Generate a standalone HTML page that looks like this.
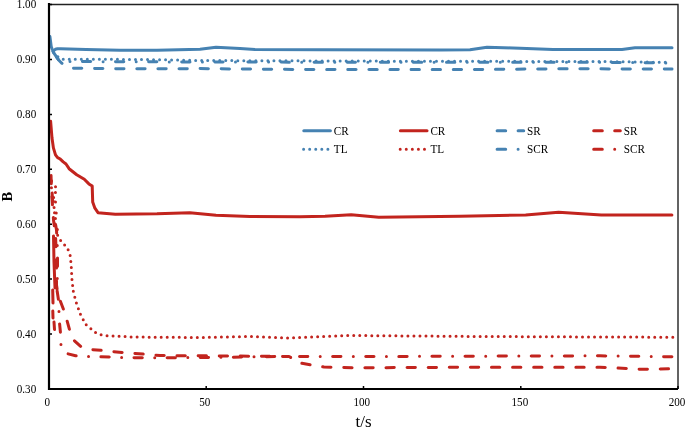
<!DOCTYPE html>
<html><head><meta charset="utf-8"><style>
html,body{margin:0;padding:0;background:#fff;width:685px;height:428px;overflow:hidden}
svg{display:block;filter:blur(0.45px)}
text{font-family:"Liberation Serif","Times New Roman",serif;fill:#000}
</style></head><body>
<svg width="685" height="428" viewBox="0 0 685 428">
<rect width="685" height="428" fill="#fff"/>
<g fill="none" stroke-width="3" stroke-linecap="round" stroke-linejoin="round">
<polyline points="52.8,51.4 58.6,60.0 61.8,63.2 66.0,66.5 72.8,68.2 120.0,68.8 200.0,68.6 260.0,69.2 320.0,69.6 480.0,69.5 560.0,68.8 672.0,69.0" stroke="#4682b2" stroke-dasharray="8.3 12.8" stroke-dashoffset="14.25"/>
<polyline points="52.8,51.4 58.6,60.0 62.0,61.5 140.0,61.8 200.0,62.0 400.0,62.3 600.0,62.3 672.0,63.0" stroke="#4682b2" stroke-dasharray="8.3 12.4 0 12.4" stroke-dashoffset="31.71"/>
<polyline points="52.8,51.4 56.0,55.3 60.0,58.5 63.0,59.3 140.0,59.4 200.0,60.5 400.0,61.2 600.0,61.5 667.0,62.3" stroke="#4682b2" stroke-dasharray="0 6.02" stroke-dashoffset="4.55"/>
<polyline points="52.8,51.4 55.3,49.3 57.5,48.8 60.7,48.7 86.0,49.5 120.0,50.3 157.0,50.3 200.0,49.2 216.0,47.3 240.0,48.6 255.0,49.5 320.0,49.8 440.0,50.0 470.0,49.8 487.0,47.2 520.0,48.3 553.0,49.6 622.0,49.4 635.0,47.8 672.0,47.8" stroke="#4682b2"/>
<polyline points="49.9,36.5 51.2,46.5 52.3,49.5" stroke="#4682b2"/>
<polyline points="51.0,175.0 51.5,190.0 52.5,205.0 53.5,220.0 55.5,235.0 56.5,260.0 56.5,285.0 58.0,295.0 63.5,309.4 66.0,317.0 69.6,330.0 73.4,339.8 81.0,346.7 91.4,349.6 100.9,350.3 122.0,352.5 143.0,354.0 160.0,355.5 289.0,356.5 301.0,363.2 312.0,365.0 324.0,367.0 353.0,367.8 480.0,367.2 600.0,367.2 642.0,369.3 672.0,368.8" stroke="#c2241e" stroke-dasharray="8.3 12.8" stroke-dashoffset="20.68"/>
<polyline points="51.2,176.0 52.5,200.0 56.0,206.0 54.0,215.0 56.5,230.0 57.5,250.0 57.5,270.0 57.0,290.0 58.5,300.0 58.9,310.0 59.4,322.0 60.4,332.0 60.6,343.6 63.0,350.0 66.6,353.5 75.6,355.8 87.0,356.5 99.4,356.8 130.0,357.6 160.0,357.8 230.0,357.2 280.0,356.5 400.0,356.4 600.0,355.8 673.0,356.8" stroke="#c2241e" stroke-dasharray="8.3 12.4 0 12.4" stroke-dashoffset="15.97"/>
<polyline points="52.7,290.0 53.0,303.0" stroke="#c2241e"/>
<polyline points="52.8,311.0 53.0,318.0" stroke="#c2241e"/>
<polyline points="54.0,322.0 54.5,329.5" stroke="#c2241e"/>
<polyline points="53.5,236.0 54.0,262.0 55.0,288.0" stroke="#c2241e"/>
<polyline points="51.0,176.0 51.5,189.0 55.5,186.5 56.2,191.0 53.0,197.0 56.5,200.0 53.5,206.0 57.0,215.0 54.0,222.0 57.5,228.0 57.0,234.0 59.8,239.5 63.5,243.6 67.4,248.3 69.9,253.5 70.7,260.0 71.3,267.0 72.0,280.0 73.4,292.0 76.6,303.7 80.8,315.3 86.0,324.7 95.7,332.6 101.1,334.8 107.1,335.7 113.0,336.1 125.0,336.6 131.0,337.0 200.0,337.5 250.0,336.5 287.0,338.0 350.0,335.5 470.0,336.4 600.0,337.0 673.2,337.2" stroke="#c2241e" stroke-dasharray="0 6.02" stroke-dashoffset="0.19"/>
<polyline points="50.6,121.2 52.0,138.0 53.4,147.9 55.5,154.9 57.6,157.7 60.0,158.8 63.2,161.9 66.0,164.0 69.1,168.7 76.7,174.7 84.3,179.3 88.9,183.9 92.2,186.1 92.7,202.1 94.9,208.2 98.0,212.7 115.3,214.2 157.0,213.8 189.8,212.7 216.0,215.3 250.0,216.5 300.0,216.8 325.0,216.3 351.2,214.8 378.8,217.3 460.0,216.2 525.7,214.9 558.6,212.2 601.3,214.9 671.9,214.9" stroke="#c2241e"/>
</g>
<path d="M49 4.5H678V389" fill="none" stroke="#222" stroke-width="1.4"/>
<path d="M49 3V389H678" fill="none" stroke="#000" stroke-width="2.2"/>
<path d="M49 4.5H52 M49 59.4H52 M49 114.4H52 M49 169.3H52 M49 224.2H52 M49 279.1H52 M49 334.1H52 M49 389.0H52 M49.0 389V386 M206.2 389V386 M363.5 389V386 M520.8 389V386 M678.0 389V386" stroke="#000" stroke-width="1.5" fill="none"/>
<g font-size="11.1px">
<text transform="translate(36.2,8.1) scale(1,1.16)" text-anchor="end">1.00</text>
<text transform="translate(36.2,63.0) scale(1,1.16)" text-anchor="end">0.90</text>
<text transform="translate(36.2,118.0) scale(1,1.16)" text-anchor="end">0.80</text>
<text transform="translate(36.2,172.9) scale(1,1.16)" text-anchor="end">0.70</text>
<text transform="translate(36.2,227.8) scale(1,1.16)" text-anchor="end">0.60</text>
<text transform="translate(36.2,282.8) scale(1,1.16)" text-anchor="end">0.50</text>
<text transform="translate(36.2,337.7) scale(1,1.16)" text-anchor="end">0.40</text>
<text transform="translate(36.2,392.6) scale(1,1.16)" text-anchor="end">0.30</text>
</g>
<g font-size="11.1px">
<text transform="translate(47.3,406) scale(1,1.16)" text-anchor="middle">0</text>
<text transform="translate(204.8,406) scale(1,1.16)" text-anchor="middle">50</text>
<text transform="translate(361.8,406) scale(1,1.16)" text-anchor="middle">100</text>
<text transform="translate(519.9,406) scale(1,1.16)" text-anchor="middle">150</text>
<text transform="translate(677.1,406) scale(1,1.16)" text-anchor="middle">200</text>
</g>
<g fill="none" stroke-width="3" stroke-linecap="round">
<path d="M303.8 130.7H330.4" stroke="#4682b2"/>
<path d="M400.4 130.7H427.0" stroke="#c2241e"/>
<path d="M497.1 130.7H523.7" stroke="#4682b2" stroke-dasharray="8.6 12.4"/>
<path d="M593.7 130.7H620.3" stroke="#c2241e" stroke-dasharray="8.6 12.4"/>
<path d="M303.6 149.2H330.4" stroke="#4682b2" stroke-dasharray="0 6.07"/>
<path d="M400.2 149.2H427.0" stroke="#c2241e" stroke-dasharray="0 6.07"/>
<path d="M497.1 149.2H523.7" stroke="#4682b2" stroke-dasharray="8.6 12.4 0 12.4"/>
<path d="M593.7 149.2H620.3" stroke="#c2241e" stroke-dasharray="8.6 12.4 0 12.4"/>
</g>
<g font-size="11.2px">
<text transform="translate(333.8,134.5) scale(1,1.08)">CR</text>
<text transform="translate(430.4,134.5) scale(1,1.08)">CR</text>
<text transform="translate(527.1,134.5) scale(1,1.08)">SR</text>
<text transform="translate(623.7,134.5) scale(1,1.08)">SR</text>
<text transform="translate(333.8,153.0) scale(1,1.08)">TL</text>
<text transform="translate(430.4,153.0) scale(1,1.08)">TL</text>
<text transform="translate(527.1,153.0) scale(1,1.08)">SCR</text>
<text transform="translate(623.7,153.0) scale(1,1.08)">SCR</text>
</g>
<text transform="translate(363.5,427.2) scale(1,1.04)" text-anchor="middle" font-size="17px">t/s</text>
<text transform="translate(11.5,196.7) rotate(-90)" text-anchor="middle" font-size="14.4px" font-weight="bold">B</text>
</svg>
</body></html>
